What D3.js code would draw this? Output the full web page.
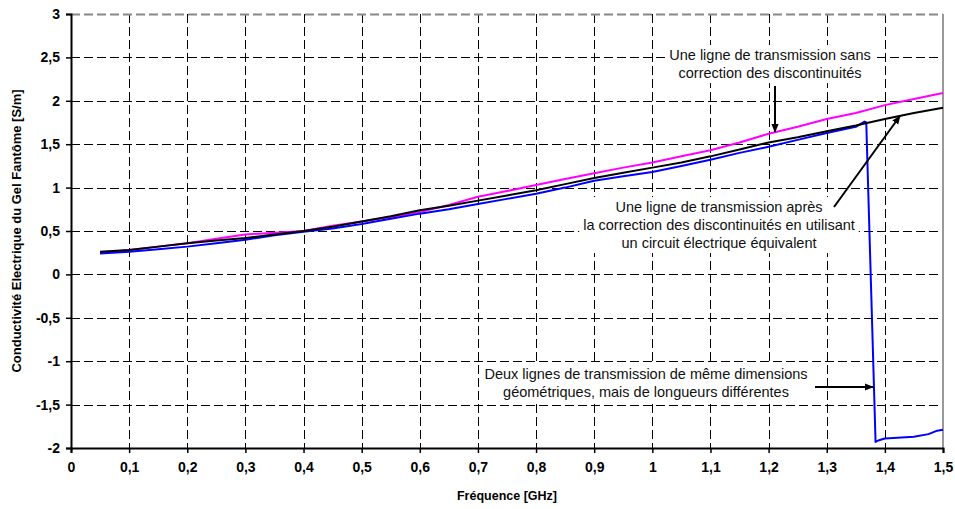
<!DOCTYPE html>
<html>
<head>
<meta charset="utf-8">
<script src="https://cdn.jsdelivr.net/npm/d3@7/dist/d3.min.js"></script>
<style>
  html, body { margin: 0; padding: 0; background: #fff; }
  svg { display: block; font-family: "Liberation Sans", Arial, sans-serif; }
</style>
</head>
<body>
<svg id="chart" width="955" height="509"></svg>
<script>
// Fréquence (GHz)
const freq = [0.05, 0.10, 0.15, 0.20, 0.25, 0.30, 0.35, 0.40, 0.45, 0.50,
              0.55, 0.60, 0.65, 0.70, 0.75, 0.80, 0.85, 0.90, 0.95, 1.00,
              1.05, 1.10, 1.15, 1.20, 1.25, 1.30, 1.35, 1.40, 1.45, 1.50];

// Ligne sans correction des discontinuités (magenta)
const sansCorrection = [0.25, 0.28, 0.32, 0.36, 0.41, 0.46, 0.48, 0.50, 0.56, 0.61,
                        0.66, 0.72, 0.80, 0.895, 0.96, 1.03, 1.10, 1.165, 1.23, 1.29,
                        1.36, 1.43, 1.52, 1.62, 1.70, 1.79, 1.86, 1.95, 2.02, 2.09];

// Ligne après correction par circuit équivalent (noir)
const apresCorrection = [0.26, 0.28, 0.32, 0.36, 0.39, 0.42, 0.46, 0.50, 0.55, 0.61,
                         0.67, 0.74, 0.79, 0.85, 0.91, 0.97, 1.04, 1.11, 1.17, 1.23,
                         1.29, 1.36, 1.44, 1.52, 1.58, 1.65, 1.715, 1.79, 1.86, 1.92];

// Deux lignes de longueurs différentes (bleu)
const freqDeuxLignes = [0.05, 0.10, 0.15, 0.20, 0.25, 0.30, 0.35, 0.40, 0.45, 0.50,
                        0.55, 0.60, 0.65, 0.70, 0.75, 0.80, 0.85, 0.90, 0.95, 1.00,
                        1.05, 1.10, 1.15, 1.20, 1.25, 1.30, 1.35, 1.365, 1.368, 1.384,
                        1.39, 1.40, 1.45, 1.475, 1.49, 1.50];
const deuxLignes = [0.24, 0.26, 0.29, 0.32, 0.36, 0.40, 0.45, 0.49, 0.53, 0.58,
                    0.64, 0.70, 0.75, 0.81, 0.87, 0.93, 1.00, 1.08, 1.13, 1.18,
                    1.25, 1.32, 1.40, 1.47, 1.55, 1.63, 1.70, 1.76, 1.75, -1.93,
                    -1.91, -1.89, -1.87, -1.84, -1.80, -1.79];

const xTicks = [0, 0.1, 0.2, 0.3, 0.4, 0.5, 0.6, 0.7, 0.8, 0.9, 1.0, 1.1, 1.2, 1.3, 1.4, 1.5];
const yTicks = [-2, -1.5, -1, -0.5, 0, 0.5, 1, 1.5, 2, 2.5, 3];

const svg = d3.select("#chart");
const W = 955, H = 509;
const margin = { top: 14, right: 12, bottom: 61, left: 71 };
const iw = W - margin.left - margin.right;
const ih = H - margin.top - margin.bottom;

const x = d3.scaleLinear().domain([0, 1.5]).range([0, iw]);
const y = d3.scaleLinear().domain([-2, 3]).range([ih, 0]);
const fmt = d => String(d).replace(".", ",");

const g = svg.append("g").attr("transform", `translate(${margin.left},${margin.top})`);

// Grille pointillée
const grid = g.append("g").attr("shape-rendering", "crispEdges");
grid.selectAll("line.v").data(xTicks.filter(d => d > 0 && d < 1.5)).join("line")
  .attr("x1", d => Math.round(x(d)) + 0.5).attr("x2", d => Math.round(x(d)) + 0.5)
  .attr("y1", 0).attr("y2", ih)
  .attr("stroke", "#000").attr("stroke-width", 1).attr("stroke-dasharray", "9,4");
grid.selectAll("line.h").data(yTicks.filter(d => d > -2 && d < 3)).join("line")
  .attr("x1", 0).attr("x2", iw)
  .attr("y1", d => Math.round(y(d)) + 0.5).attr("y2", d => Math.round(y(d)) + 0.5)
  .attr("stroke", "#000").attr("stroke-width", 1).attr("stroke-dasharray", "9,4");

// Bordure haute et droite de la zone de tracé
g.append("line").attr("x1", 0).attr("x2", iw).attr("y1", 0.5).attr("y2", 0.5)
  .attr("stroke", "#888").attr("stroke-width", 2).attr("stroke-dasharray", "9,4");
g.append("line").attr("x1", iw).attr("x2", iw).attr("y1", 0).attr("y2", ih)
  .attr("stroke", "#999").attr("stroke-width", 2);

// Courbes
const line = d3.line().x(d => x(d[0])).y(d => y(d[1]));
const series = [
  { f: freq, v: sansCorrection, color: "#ff00ff" },
  { f: freqDeuxLignes, v: deuxLignes, color: "#0000ff" },
  { f: freq, v: apresCorrection, color: "#000000" }
];
series.forEach(s => {
  g.append("path")
    .datum(s.f.map((f, i) => [f, s.v[i]]))
    .attr("fill", "none")
    .attr("stroke", s.color)
    .attr("stroke-width", 2)
    .attr("stroke-linejoin", "round")
    .attr("d", line);
});

// Axes
const xAxis = g.append("g").attr("transform", `translate(0,${ih})`)
  .call(d3.axisBottom(x).tickValues(xTicks).tickFormat(fmt).tickSize(5).tickPadding(9));
const yAxis = g.append("g")
  .call(d3.axisLeft(y).tickValues(yTicks).tickFormat(fmt).tickSize(5).tickPadding(6));
[xAxis, yAxis].forEach(a => {
  a.select(".domain").attr("stroke", "#000").attr("stroke-width", 2);
  a.selectAll(".tick line").attr("stroke", "#000").attr("stroke-width", 1.5);
  a.selectAll(".tick text")
    .attr("fill", "#000")
    .attr("font-family", "'Liberation Sans', Arial, sans-serif")
    .attr("font-size", 14)
    .attr("font-weight", "bold");
});

// Titres des axes
svg.append("text")
  .attr("x", margin.left + iw / 2).attr("y", 500)
  .attr("text-anchor", "middle")
  .attr("font-size", 12.5).attr("font-weight", "bold")
  .text("Fréquence [GHz]");
svg.append("text")
  .attr("transform", `translate(21,${margin.top + ih / 2}) rotate(-90)`)
  .attr("text-anchor", "middle")
  .attr("font-size", 13).attr("font-weight", "bold")
  .text("Conductivité Electrique du Gel Fantôme [S/m]");

// Annotations
svg.append("defs").append("marker")
  .attr("id", "arrow").attr("viewBox", "0 0 10 10")
  .attr("refX", 9).attr("refY", 5)
  .attr("markerWidth", 4.5).attr("markerHeight", 4.5)
  .attr("markerUnits", "strokeWidth")
  .attr("orient", "auto")
  .append("path").attr("d", "M0,1 L10,5 L0,9 Z").attr("fill", "#000");

const notes = [
  { cx: 770, ys: [55, 73],
    lines: ["Une ligne de transmission sans", "correction des discontinuités"],
    arrow: [[775, 86], [775, 132]] },
  { cx: 719, ys: [207, 225, 243],
    lines: ["Une ligne de transmission après",
            "la correction des discontinuités en utilisant",
            "un circuit électrique équivalent"],
    arrow: [[834, 207], [900, 116]] },
  { cx: 646, ys: [374, 392],
    lines: ["Deux lignes de transmission de même dimensions",
            "géométriques, mais de longueurs différentes"],
    arrow: [[815, 387], [873, 387]] }
];

notes.forEach(n => {
  const grp = svg.append("g");
  const bg = grp.append("rect").attr("fill", "#fff");
  grp.selectAll("text").data(n.lines).join("text")
    .attr("x", n.cx).attr("y", (d, i) => n.ys[i])
    .attr("dy", "0.35em")
    .attr("text-anchor", "middle")
    .attr("font-size", 14.5)
    .attr("fill", "#111")
    .text(d => d);
  const bb = grp.node().getBBox();
  bg.attr("x", bb.x - 4).attr("y", bb.y - 2).attr("width", bb.width + 8).attr("height", bb.height + 4);
  svg.append("line")
    .attr("x1", n.arrow[0][0]).attr("y1", n.arrow[0][1])
    .attr("x2", n.arrow[1][0]).attr("y2", n.arrow[1][1])
    .attr("stroke", "#000").attr("stroke-width", 2)
    .attr("marker-end", "url(#arrow)");
});
</script>
</body>
</html>
